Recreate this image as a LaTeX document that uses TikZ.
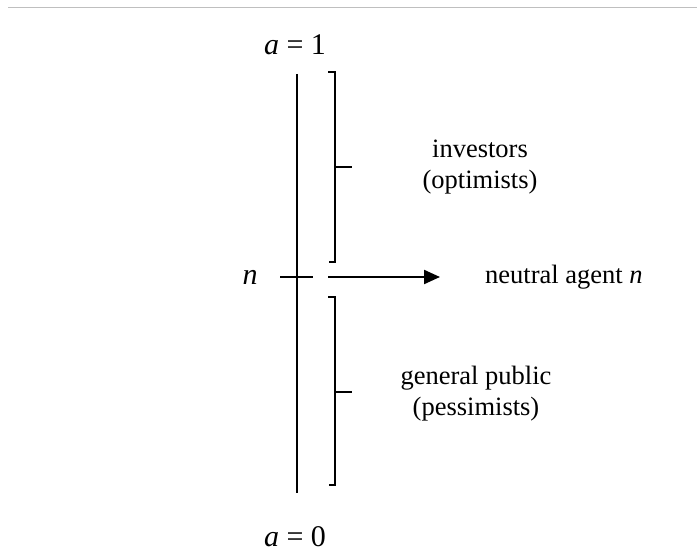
\documentclass[tikz,border=0pt]{standalone}
\usepackage{fontspec}
\setmainfont{Liberation Serif}
\usetikzlibrary{arrows.meta, positioning, calc}
\tikzset{
  scale line/.style={
    line width=2.2pt, draw=black
  },
  group brace/.style={
    line width=2.2pt, draw=black, line join=miter
  },
  agent arrow/.style={
    -{Triangle[length=16pt,width=14pt]}, line width=2.2pt, draw=black
  },
  end label/.style={
    font=\fontsize{30}{34}\selectfont, inner sep=0pt
  },
  group label/.style={
    font=\fontsize{26.5}{31}\selectfont, align=center, inner sep=0pt
  }
}

\begin{document}
\begin{tikzpicture}[x=1pt, y=-1pt]
  \useasboundingbox (0,0) rectangle (697,559);
  \draw [black!25, line width=1pt] (8,8) -- (697,8);

  % the line of agents
  \coordinate (top) at (297,74);
  \coordinate (bot) at (297,493);
  \draw [scale line] (top) -- (bot);
  \node (a1) [end label] at (295,45) {\textit{a} = 1};
  \node (a0) [end label] at (295,537) {\textit{a} = 0};

  % neutral agent
  \coordinate (nl) at (280,277);
  \coordinate (nr) at (313,277);
  \draw [scale line] (nl) -- (nr);
  \node (n) [end label] at (250,277) {\textit{n}};
  \coordinate (arrS) at (328,277);
  \coordinate (arrE) at (440,277);
  \draw [agent arrow] (arrS) -- (arrE);
  \node (neutral) [group label, right=45pt of arrE] {neutral agent \textit{n}};

  % investors
  \draw [group brace] (328,72) -- (335,72) -- (335,262) -- (329,262);
  \coordinate (up) at (335,167);
  \coordinate (upT) at (352,167);
  \draw [group brace] (up) -- (upT);
  \node (inv) [group label] at (480,167) {investors\\(optimists)};

  % general public
  \draw [group brace] (328,297) -- (335,297) -- (335,485) -- (329,485);
  \coordinate (lo) at (335,392);
  \coordinate (loT) at (352,392);
  \draw [group brace] (lo) -- (loT);
  \node (pub) [group label] at (476,394) {general public\\(pessimists)};
\end{tikzpicture}
\end{document}
